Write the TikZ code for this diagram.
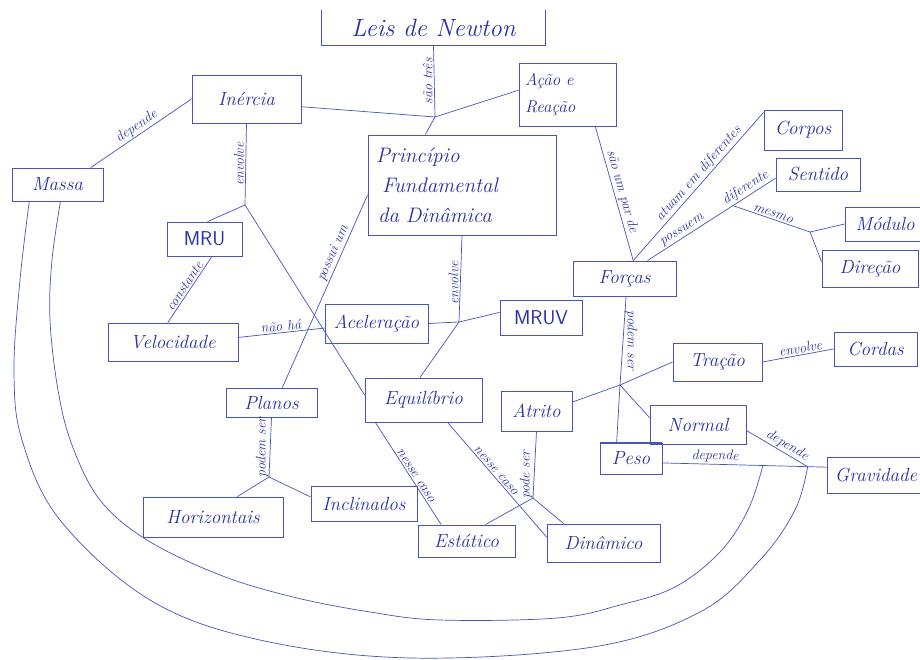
\documentclass[tikz,border=0pt]{standalone}
\usepackage{fontspec}
\definecolor{ink}{RGB}{40,48,165}
\definecolor{pen}{RGB}{72,84,190}
\begin{document}
\begin{tikzpicture}[x=1pt,y=-1pt,
  box/.style={draw=pen, line width=0.9pt, text=ink, inner sep=0pt, font=\fontsize{19}{22}\selectfont\itshape},
  capbox/.style={box, font=\fontsize{20}{22}\selectfont\sffamily},
  lab/.style={text=ink, inner sep=1.5pt, font=\fontsize{14}{16}\selectfont\itshape},
  con/.style={draw=pen, line width=0.7pt}]
\useasboundingbox[fill=white] (0,0) rectangle (920,660);

% ---------- nodes ----------
\node[box, draw=none, minimum width=223, minimum height=35, font=\fontsize{25}{28}\selectfont\itshape] (leis) at (433.5,27.5) {Leis de Newton};
\draw[pen, line width=0.9pt] (leis.north west) -- (leis.south west) -- (leis.south east) -- (leis.north east);
\node[box, minimum width=109, minimum height=48] (inercia) at (246.5,99) {Inércia};
\node[box, minimum width=97, minimum height=63, text width=85, align=left, font=\fontsize{17}{27}\selectfont\itshape] (acao) at (567.5,94.5) {Ação e\\Reação};
\node[box, minimum width=188, minimum height=100, text width=172, align=left, font=\fontsize{21}{30}\selectfont\itshape] (princ) at (462,185) {Princípio\\\hspace{6pt}Fundamental\\\hspace{2pt}da Dinâmica};
\node[box, minimum width=91, minimum height=33] (massa) at (57.5,184.5) {Massa};
\node[capbox, minimum width=75, minimum height=34] (mru) at (204.5,239) {MRU};
\node[box, minimum width=130, minimum height=38] (veloc) at (173,342) {Velocidade};
\node[box, minimum width=103, minimum height=39] (acel) at (376.5,323.5) {Aceleração};
\node[capbox, minimum width=82, minimum height=35] (mruv) at (541,317.5) {MRUV};
\node[box, minimum width=103, minimum height=35] (forcas) at (624.5,278.5) {Forças};
\node[box, minimum width=78, minimum height=40] (corpos) at (803,130) {Corpos};
\node[box, minimum width=84, minimum height=33] (sentido) at (818,174.5) {Sentido};
\node[box, minimum width=80, minimum height=34] (modulo) at (885,224) {Módulo};
\node[box, minimum width=96, minimum height=37] (direcao) at (870,268.5) {Direção};
\node[box, minimum width=89, minimum height=38] (tracao) at (717.5,362) {Tração};
\node[box, minimum width=83, minimum height=34] (cordas) at (875.5,349) {Cordas};
\node[box, minimum width=96, minimum height=39] (normal) at (698,424.5) {Normal};
\node[box, minimum width=62, minimum height=31] (peso) at (631,458.5) {Peso};
\draw[pen, line width=1.8pt] (peso.north west) -- (peso.north east);
\node[box, minimum width=98, minimum height=36] (grav) at (876,475) {Gravidade};
\node[box, minimum width=91, minimum height=29] (planos) at (271.5,402.5) {Planos};
\node[box, minimum width=117, minimum height=44] (equil) at (423.5,400) {Equilíbrio};
\node[box, minimum width=71, minimum height=40] (atrito) at (536.5,411) {Atrito};
\node[box, minimum width=140, minimum height=40] (horiz) at (213,517) {Horizontais};
\node[box, minimum width=106, minimum height=35] (incl) at (364,503.5) {Inclinados};
\node[box, minimum width=97, minimum height=32] (estat) at (466.5,541) {Estático};
\node[box, minimum width=113, minimum height=38] (dinam) at (603.5,543) {Dinâmico};

% ---------- junctions ----------
\coordinate (j1) at (435,117);
\coordinate (j2) at (245,205);
\coordinate (j3) at (459,322);
\coordinate (j5) at (810,232);
\coordinate (j6) at (620,385);
\coordinate (j8) at (269,477);
\coordinate (j9) at (533,498);

% ---------- connectors ----------
\draw[con] (leis.south) -- node[lab, rotate=90, anchor=south] {são três} (j1);
\draw[con] (inercia.-8) -- (j1);
\draw[con] (j1) -- (acao.175);
\draw[con] (j1) -- (princ.126);

\draw[con] (massa.27) -- node[lab, sloped, above] {depende} (inercia.west);
\draw[con] (inercia.south) -- node[lab, rotate=90, anchor=south] {envolve} (j2);
\draw[con] (j2) -- (mru.80);
\draw[con] (j2) -- (equil.175);
\draw[con] (veloc.105) -- node[lab, sloped, above] {constante} (mru.-67);
\draw[con] (veloc.4) -- node[lab, sloped, above, pos=0.5] {não há} (acel.185);
\draw[con] (planos.54) -- node[lab, sloped, above, pos=0.68] {possui um} (princ.186);

\draw[con] (princ.south) -- node[lab, rotate=90, anchor=south, pos=0.55] {envolve} (j3);
\draw[con] (acel.east) -- (j3);
\draw[con] (j3) -- (mruv.173);
\draw[con] (j3) -- (equil.99);

\draw[con] (acao.-49) -- node[lab, sloped, above] {são um par de} (forcas.64);
\draw[con] (forcas.64) -- node[lab, sloped, above, pos=0.55] {atuam em diferentes} (corpos.156);
\draw[con] (forcas.38) -- node[lab, sloped, above, pos=0.3] {possuem}
   node[lab, sloped, above, pos=0.8] {diferente} coordinate[pos=0.667] (j4) (sentido.185);
\draw[con] (j4) -- node[lab, sloped, above] {mesmo} (j5);
\draw[con] (j5) -- (modulo.west);
\draw[con] (j5) -- (direcao.172);

\draw[con] (forcas.-85) -- node[lab, rotate=-90, anchor=south] {podem ser} (j6);
\draw[con] (j6) -- (tracao.west);
\draw[con] (j6) -- (atrito.14);
\draw[con] (j6) -- (normal.172);
\draw[con] (j6) -- (peso.132);
\draw[con] (tracao.east) -- node[lab, sloped, above, pos=0.55] {envolve} (cordas.west);
\draw[con] (peso.-8) -- node[lab, sloped, above, pos=0.32] {depende}
   coordinate[pos=0.612] (j10) coordinate[pos=0.885] (j7) (grav.171);
\draw[con] (normal.-7) -- node[lab, sloped, above, pos=0.6] {depende} (j7);

\draw[con] (planos.south) -- node[lab, rotate=90, anchor=south] {podem ser} (j8);
\draw[con] (j8) -- (horiz.40);
\draw[con] (j8) -- (incl.173);
\draw[con] (equil.205) -- node[lab, sloped, above, pos=0.55] {nesse caso} (estat.147);
\draw[con] (equil.-43) -- node[lab, sloped, above, pos=0.45] {nesse caso} (dinam.174);
\draw[con] (atrito.south) -- node[lab, rotate=90, anchor=south, pos=0.65] {pode ser} (j9);
\draw[con] (j9) -- (estat.41);
\draw[con] (j9) -- (dinam.154);

% ---------- long curves ----------
\draw[con] plot[smooth, tension=0.6] coordinates {(massa.211) (20,280) (14,370) (22,440) (60,520) (150,600) (260,640) (411,658) (593,647) (700,612) (760,560) (795,510) (j7)};
\draw[con] plot[smooth, tension=0.6] coordinates {(massa.-80) (52,260) (50,320) (58,390) (72,445) (100,500) (147,540) (220,575) (293,597) (370,612) (440,620) (557,618) (620,605) (675,587) (720,552) (748,510) (j10)};
\end{tikzpicture}
\end{document}
